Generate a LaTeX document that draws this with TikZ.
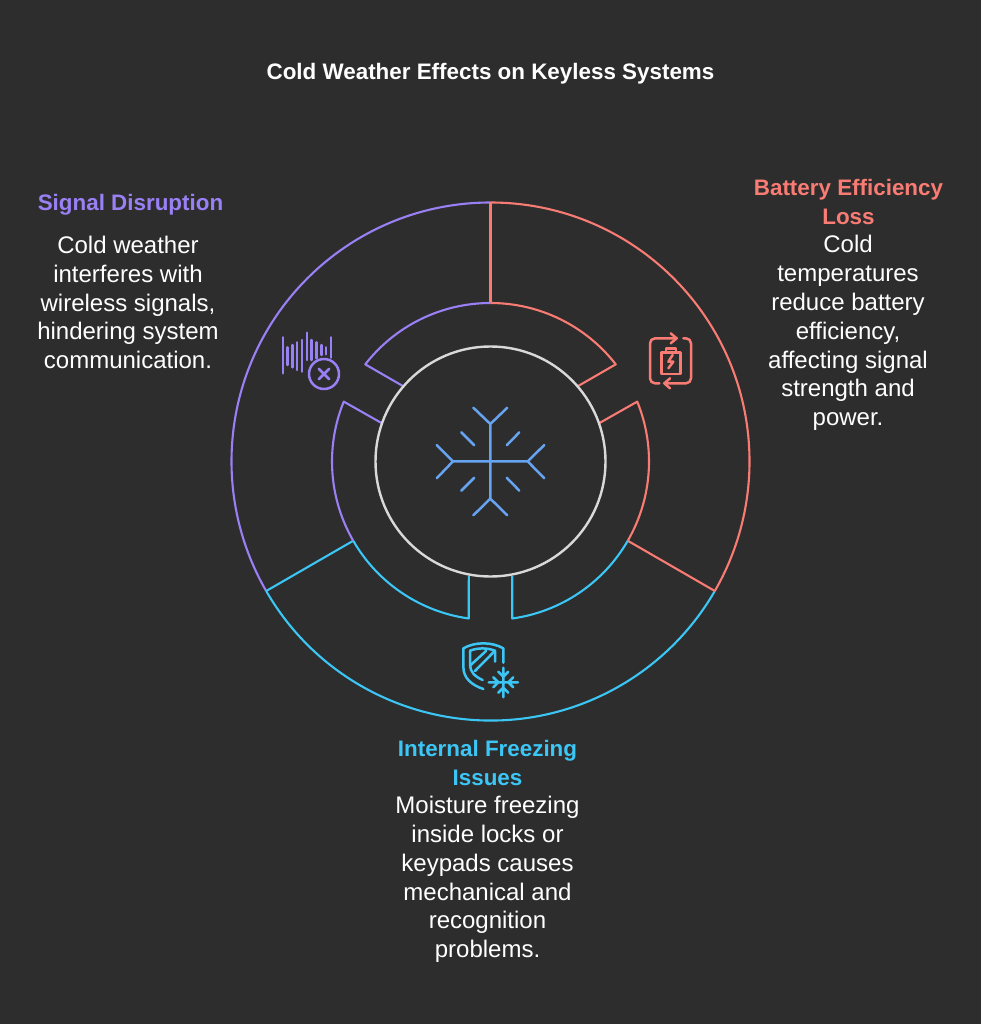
\documentclass[tikz,border=0pt]{standalone}
\usepackage{fontspec}
\setmainfont{Liberation Sans}
\definecolor{bgc}{HTML}{2D2D2D}
\definecolor{vio}{HTML}{9A80F5}
\definecolor{redc}{HTML}{F97C74}
\definecolor{cya}{HTML}{3CC6F5}
\definecolor{whc}{HTML}{D9D9D9}
\definecolor{blu}{HTML}{66A3F0}
\tikzset{
 ttl/.style={font=\fontsize{22.4}{28.8}\selectfont\bfseries,align=center,inner sep=0pt},
 body/.style={font=\fontsize{24}{28.8}\selectfont,text=white,align=center,inner sep=0pt},
 ring/.style={line width=2.1pt,line join=round},
 ico/.style={line width=2.5pt,line cap=round,line join=round},
}
\begin{document}
\begin{tikzpicture}[x=1pt,y=-1pt]
\fill[bgc] (0,0) rectangle (981,1024);
\useasboundingbox (0,0) rectangle (981,1024);
\coordinate (C) at (490.5,461.5);
\begin{scope}[shift={(C)},x=1pt,y=1pt]
 % outer ring
 \draw[ring,vio] (90:259) arc[start angle=90,end angle=210,radius=259];
 \draw[ring,redc] (90:259) arc[start angle=90,end angle=-30,radius=259];
 \draw[ring,cya] (210:259) arc[start angle=210,end angle=330,radius=259];
 % spokes
 \draw[ring,redc] (90:259) -- (90:159);
 \draw[ring,redc] (-30:259) -- (-30:159);
 \draw[ring,cya] (210:259) -- (210:159);
 % top segment
 \draw[ring,vio] (139.2:115) -- (142.2:158.5) arc[start angle=142.2,end angle=90,radius=158.5];
 \draw[ring,redc] (40.8:115) -- (37.8:158.5) arc[start angle=37.8,end angle=90,radius=158.5];
 % right segment
 \draw[ring,redc] (19.4:115) -- (22.2:158.5) arc[start angle=22.2,end angle=-30,radius=158.5];
 \draw[ring,cya] (-30:158.5) arc[start angle=-30,end angle=-82.1,radius=158.5] -- (21.7,-114.5);
 % left segment
 \draw[ring,vio] (160.6:115) -- (157.8:158.5) arc[start angle=157.8,end angle=210,radius=158.5];
 \draw[ring,cya] (210:158.5) arc[start angle=210,end angle=262.1,radius=158.5] -- (-21.7,-114.5);
 % centre
 \draw[line width=2.4pt,whc] (0,0) circle[radius=115];
\end{scope}
% centre snowflake
\begin{scope}[shift={(420,390)},x=1/3*1pt,y=-1/3*1pt]
 \draw[ico,blu] (211,102)--(211,326) (99,214)--(323,214)
  (160,53)--(211,102)--(262,53) (160,376)--(211,326)--(262,376)
  (50,165)--(99,214)--(50,265) (373,165)--(323,214)--(373,265)
  (124,127)--(163,166) (298,127)--(260,166) (124,302)--(163,263) (298,302)--(260,263);
\end{scope}
% battery icon
\begin{scope}[shift={(620,310)},x=1/3*1pt,y=-1/3*1pt]
 \draw[ico,redc] (152,70)--(170,85)--(152,100);
 \draw[ico,redc,rounded corners=5pt] (170,85)--(90,85)--(90,220)--(118,220);
 \draw[ico,redc,rounded corners=5pt] (190,85)--(213,85)--(213,220)--(133,220);
 \draw[ico,redc] (150,205)--(133,220)--(150,235);
 \draw[ico,redc] (125,127) rectangle (182,192);
 \draw[ico,redc] (138,127)--(138,115)--(168,115)--(168,127);
 \draw[ico,redc] (158,135)--(145,155)--(160,155)--(145,175);
\end{scope}
% signal icon
\begin{scope}[shift={(260,310)},x=1/3*1pt,y=-1/3*1pt]
 \draw[ico,vio] (69,82)--(69,190) (83,112)--(83,165) (97,105)--(97,172) (111,97)--(111,180)
  (126,90)--(126,185) (141,68)--(141,150) (155,90)--(155,150) (170,97)--(170,145)
  (184,105)--(184,135) (198,112)--(198,133) (213,82)--(213,143);
 \draw[ico,vio] (192,192) circle[radius=15pt];
 \draw[ico,vio] (176,176)--(208,208) (208,176)--(176,208);
\end{scope}
% shield icon
\begin{scope}[shift={(440,620)},x=1/3*1pt,y=-1/3*1pt]
 \draw[ico,cya] (130,207) .. controls (95,195) and (70,175) .. (70,140) -- (70,85)
   .. controls (105,65) and (155,65) .. (190,85) -- (190,128);
 \draw[ico,cya] (128,180) .. controls (105,170) and (90,155) .. (90,135) -- (90,92)
   .. controls (115,83) and (140,83) .. (165,92) -- (165,125);
 \draw[ico,cya] (90,137)--(138,93) (105,153)--(165,92);
 \draw[ico,cya] (190,143)--(190,232) (146,187)--(234,187)
  (175,155)--(190,170)--(205,155) (175,218)--(190,203)--(205,218)
  (160,172)--(175,187)--(160,202) (220,172)--(205,187)--(220,202);
\end{scope}
% texts
\node[ttl,text=white] (title) at (490.5,74) {Cold Weather Effects on Keyless Systems};
\node[ttl,text=vio] (sigT) at (130.5,204.5) {Signal Disruption};
\node[body] (sigB) at (128,302.5) {Cold weather\\interferes with\\wireless signals,\\hindering system\\communication.};
\node[ttl,text=redc] (batT) at (848.5,202) {Battery Efficiency\\Loss};
\node[body] (batB) at (848,333) {Cold\\temperatures\\reduce battery\\efficiency,\\affecting signal\\strength and\\power.};
\node[ttl,text=cya] (intT) at (487.5,763) {Internal Freezing\\Issues};
\node[body] (intB) at (487.5,879.5) {Moisture freezing\\inside locks or\\keypads causes\\mechanical and\\recognition\\problems.};
\end{tikzpicture}
\end{document}
